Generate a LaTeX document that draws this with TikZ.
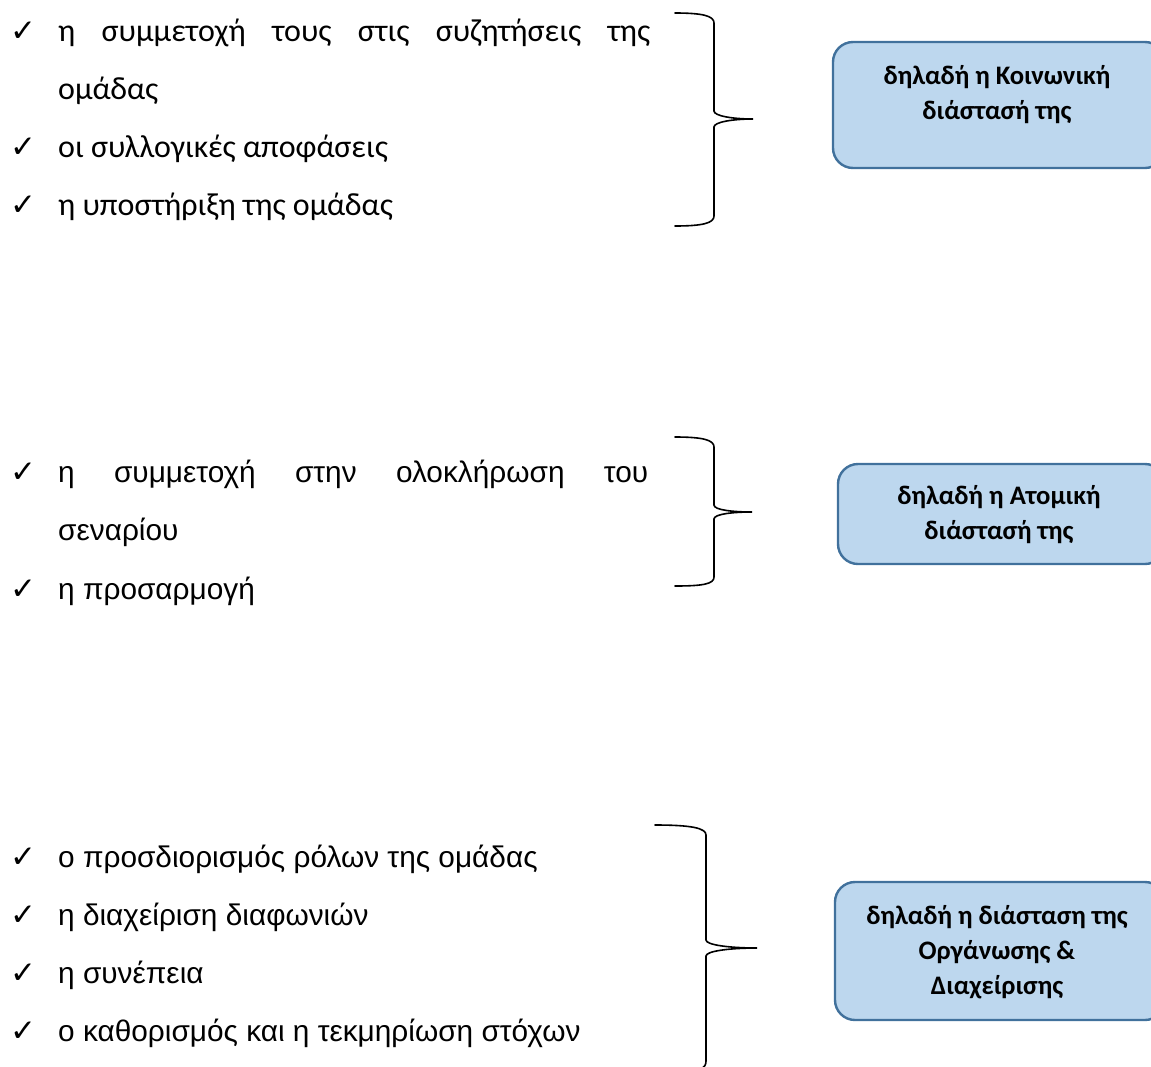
\documentclass[tikz,border=0pt]{standalone}
\usepackage{fontspec}
\setmainfont{Carlito}
\newfontfamily\arialfont{Liberation Sans}
\newfontfamily\symfont{DejaVu Sans}
\begin{document}
\begin{tikzpicture}[x=1pt,y=-1pt,
  item/.style={anchor=base west,inner sep=0pt,font=\fontsize{32}{38}\selectfont},
  itemarial/.style={item,font=\fontsize{29.8}{38}\arialfont},
  tick/.style={anchor=base west,inner sep=0pt,font=\fontsize{31}{36}\symfont\bfseries},
  dimbox/.style={draw=boxline,fill=boxfill,line width=2.4pt,rounded corners=20pt},
  dimtext/.style={align=center,inner sep=0pt,font=\fontsize{26.7}{35}\selectfont\bfseries},
  bracepath/.style={line width=1.6pt,line cap=round}]
\definecolor{boxfill}{HTML}{BDD7EE}
\definecolor{boxline}{HTML}{41719C}
\useasboundingbox (0,0) rectangle (1151,1066);
\clip (0,0) rectangle (1151,1066);

% --- social dimension ---
\node[tick] (c11) at (10,41) {✓};
\node[item] (t11) at (58,41) {\makebox[592pt][s]{η\hfill συμμετοχή\hfill τους\hfill στις\hfill συζητήσεις\hfill της}};
\node[item] (t12) at (58,99) {ομάδας};
\node[tick] (c13) at (10,157) {✓};
\node[item] (t13) at (58,157) {οι συλλογικές αποφάσεις};
\node[tick] (c14) at (10,215) {✓};
\node[item] (t14) at (58,215) {η υποστήριξη της ομάδας};

\draw[bracepath] (675,13) .. controls (703,13) and (714,16) .. (714,23) -- (714,111)
  .. controls (714,116) and (733,119) .. (753,119)
  .. controls (733,119) and (714,122) .. (714,127) -- (714,216)
  .. controls (714,223) and (703,226) .. (675,226);

\draw[dimbox] (833,42) rectangle (1165,168);
\node[dimtext] (d1) at (997,94.5) {δηλαδή η Κοινωνική\\διάστασή της};

% --- individual dimension ---
\node[tick] (c21) at (10,482) {✓};
\node[itemarial] (t21) at (58,482) {\makebox[590pt][s]{η\hfill συμμετοχή\hfill στην\hfill ολοκλήρωση\hfill του}};
\node[itemarial] (t22) at (58,540) {σεναρίου};
\node[tick] (c23) at (10,599) {✓};
\node[itemarial] (t23) at (58,599) {η προσαρμογή};

\draw[bracepath] (675,437) .. controls (703,437) and (714,440) .. (714,447) -- (714,505)
  .. controls (714,510) and (733,512) .. (752,512)
  .. controls (733,512) and (714,514) .. (714,519) -- (714,577)
  .. controls (714,584) and (703,586) .. (675,586);

\draw[dimbox] (838,464) rectangle (1165,564);
\node[dimtext] (d2) at (999,514.5) {δηλαδή η Ατομική\\διάστασή της};

% --- organisation & management dimension ---
\node[tick] (c31) at (10,867) {✓};
\node[itemarial] (t31) at (58,867) {ο προσδιορισμός ρόλων της ομάδας};
\node[tick] (c32) at (10,925) {✓};
\node[itemarial] (t32) at (58,925) {η διαχείριση διαφωνιών};
\node[tick] (c33) at (10,983) {✓};
\node[itemarial] (t33) at (58,983) {η συνέπεια};
\node[tick] (c34) at (10,1041) {✓};
\node[itemarial] (t34) at (58,1041) {ο καθορισμός και η τεκμηρίωση στόχων};

\draw[bracepath] (655,825) .. controls (691,825) and (706,828) .. (706,835) -- (706,940)
  .. controls (706,945) and (730,948) .. (757,948)
  .. controls (730,948) and (706,951) .. (706,956) -- (706,1061)
  .. controls (706,1068) and (700,1071) .. (690,1071);

\draw[dimbox] (835,882) rectangle (1165,1020);
\node[dimtext] (d3) at (997,952) {δηλαδή η διάσταση της\\Οργάνωσης \&\\Διαχείρισης};
\end{tikzpicture}
\end{document}
